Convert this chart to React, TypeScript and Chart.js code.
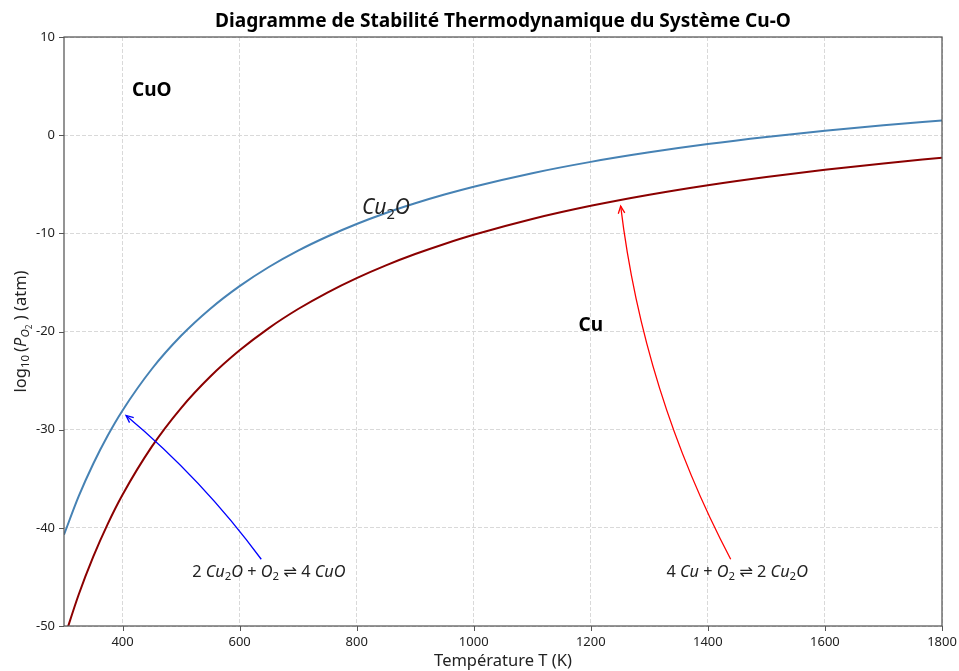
import React, { useEffect, useRef } from "react";
import { Chart, registerables } from "chart.js";

Chart.register(...registerables);

// ---------- data ----------
const TEMPS = [300, 325, 350, 375, 400, 450, 500, 550, 600, 650, 700, 750, 800, 850, 900, 950, 1000, 1100, 1200, 1300, 1400, 1500, 1600, 1700, 1800];
const CUO_CU2O = [-40.7, -36.8, -33.47, -30.57, -28.04, -23.82, -20.44, -17.68, -15.38, -13.43, -11.76, -10.32, -9.05, -7.93, -6.94, -6.05, -5.25, -3.87, -2.72, -1.75, -0.91, -0.19, 0.44, 1.0, 1.5];
const CU2O_CU = [-51.34, -46.82, -42.94, -39.57, -36.63, -31.73, -27.8, -24.59, -21.92, -19.65, -17.71, -16.03, -14.56, -13.26, -12.11, -11.08, -10.15, -8.54, -7.2, -6.07, -5.1, -4.26, -3.53, -2.88, -2.3];
const X_TICKS = [400, 600, 800, 1000, 1200, 1400, 1600, 1800];
const Y_TICKS = [-50, -40, -30, -20, -10, 0, 10];

const TITLE = "Diagramme de Stabilité Thermodynamique du Système Cu-O";
const X_TITLE = "Température T (K)";

const FAM = '"Noto Sans", "DejaVu Sans", sans-serif';

type Seg = { t: string; it?: boolean; b?: boolean; sub?: number };

function segFont(s: Seg, size: number) {
  const sz = s.sub === 2 ? size * 0.5 : s.sub === 1 ? size * 0.7 : size;
  return `${s.it ? "italic " : ""}${s.b ? "bold " : ""}${sz}px ${FAM}`;
}

function drawRich(ctx: CanvasRenderingContext2D, segs: Seg[], x: number, yMid: number, size: number, color: string) {
  const widths = segs.map((s) => {
    ctx.font = segFont(s, size);
    return ctx.measureText(s.t).width;
  });
  const total = widths.reduce((a, b) => a + b, 0);
  let cx = x - total / 2;
  const base = yMid + size * 0.36;
  ctx.fillStyle = color;
  ctx.textAlign = "left";
  ctx.textBaseline = "alphabetic";
  segs.forEach((s, i) => {
    ctx.font = segFont(s, size);
    const off = s.sub === 2 ? size * 0.38 : s.sub === 1 ? size * 0.2 : 0;
    ctx.fillText(s.t, cx, base + off);
    cx += widths[i];
  });
}

function drawArrow(ctx: CanvasRenderingContext2D, x1: number, y1: number, x2: number, y2: number, rad: number, color: string) {
  const mx = (x1 + x2) / 2, my = (y1 + y2) / 2;
  const dx = x2 - x1, dy = y2 - y1;
  const cx = mx + rad * dy, cy = my - rad * dx;
  ctx.strokeStyle = color;
  ctx.lineWidth = 1.3;
  ctx.setLineDash([]);
  ctx.beginPath();
  ctx.moveTo(x1, y1);
  ctx.quadraticCurveTo(cx, cy, x2, y2);
  ctx.stroke();
  const ang = Math.atan2(y2 - cy, x2 - cx);
  const L = 8, a = 0.42;
  ctx.beginPath();
  ctx.moveTo(x2 - L * Math.cos(ang - a), y2 - L * Math.sin(ang - a));
  ctx.lineTo(x2, y2);
  ctx.lineTo(x2 - L * Math.cos(ang + a), y2 - L * Math.sin(ang + a));
  ctx.stroke();
}

const overlay = {
  id: "overlay",
  afterDraw(chart: any) {
    const ctx: CanvasRenderingContext2D = chart.ctx;
    const xs = chart.scales.x, ys = chart.scales.y;
    const a = chart.chartArea;
    const px = (v: number) => xs.getPixelForValue(v);
    const py = (v: number) => ys.getPixelForValue(v);
    ctx.save();

    // frame
    ctx.strokeStyle = "#555";
    ctx.lineWidth = 1.25;
    ctx.setLineDash([]);
    ctx.strokeRect(a.left, a.top, a.right - a.left, a.bottom - a.top);
    // tick marks
    ctx.lineWidth = 1;
    ctx.beginPath();
    X_TICKS.forEach((v) => {
      const x = Math.round(px(v)) + 0.5;
      ctx.moveTo(x, a.bottom);
      ctx.lineTo(x, a.bottom + 5);
    });
    Y_TICKS.forEach((v) => {
      const y = Math.round(py(v)) + 0.5;
      ctx.moveTo(a.left - 5, y);
      ctx.lineTo(a.left, y);
    });
    ctx.stroke();

    // title
    ctx.fillStyle = "#000";
    ctx.font = `bold 19.1px ${FAM}`;
    ctx.textAlign = "center";
    ctx.textBaseline = "middle";
    ctx.fillText(TITLE, (a.left + a.right) / 2, 22);

    // x title
    ctx.fillStyle = "#222";
    ctx.font = `16.5px ${FAM}`;
    ctx.fillText(X_TITLE, (a.left + a.right) / 2, 661);

    // y title
    ctx.save();
    ctx.translate(20, (a.top + a.bottom) / 2);
    ctx.rotate(-Math.PI / 2);
    drawRich(ctx, [
      { t: "log" },
      { t: "10 ", sub: 1 },
      { t: "(" },
      { t: "P", it: true },
      { t: "O", it: true, sub: 1 },
      { t: "2", sub: 2 },
      { t: " ) (atm)" },
    ], 0, 0, 16.5, "#222");
    ctx.restore();

    // region labels
    drawRich(ctx, [{ t: "CuO", b: true }], px(450), py(4.7), 19, "#000");
    drawRich(ctx, [{ t: "Cu", b: true }], px(1200), py(-19.3), 19, "#000");
    drawRich(ctx, [{ t: "Cu", it: true }, { t: "2", sub: 1 }, { t: "O", it: true }], px(850), py(-7.3), 21, "#222");

    // equations
    drawRich(ctx, [
      { t: "2 " }, { t: "Cu", it: true }, { t: "2", sub: 1 }, { t: "O", it: true },
      { t: " + " }, { t: "O", it: true }, { t: "2", sub: 1 }, { t: " ⇌ 4 " }, { t: "CuO", it: true },
    ], px(650), py(-44.4), 16.3, "#222");
    drawRich(ctx, [
      { t: "4 " }, { t: "Cu", it: true }, { t: " + " }, { t: "O", it: true }, { t: "2", sub: 1 },
      { t: " ⇌ 2 " }, { t: "Cu", it: true }, { t: "2", sub: 1 }, { t: "O", it: true },
    ], px(1450), py(-44.4), 16.3, "#222");

    // arrows
    drawArrow(ctx, px(637), py(-43.2), px(406), py(-28.55), -0.06, "#0000ff");
    drawArrow(ctx, px(1439), py(-43.2), px(1251), py(-7.22), 0.092, "#ff0000");

    ctx.restore();
  },
};

export default function App() {
  const ref = useRef<HTMLCanvasElement | null>(null);
  useEffect(() => {
    document.body.style.margin = "0";
    const canvas = ref.current!;
    const chart = new Chart(canvas, {
      type: "scatter",
      data: {
        datasets: [
          {
            label: "CuO / Cu2O",
            data: TEMPS.map((t, i) => ({ x: t, y: CUO_CU2O[i] })),
            showLine: true,
            borderColor: "#4682b4",
            borderWidth: 2,
            pointRadius: 0,
            cubicInterpolationMode: "monotone",
            clip: 0,
          },
          {
            label: "Cu2O / Cu",
            data: TEMPS.map((t, i) => ({ x: t, y: CU2O_CU[i] })),
            showLine: true,
            borderColor: "#8b0000",
            borderWidth: 2,
            pointRadius: 0,
            cubicInterpolationMode: "monotone",
            clip: 0,
          },
        ],
      },
      options: {
        animation: false,
        responsive: false,
        devicePixelRatio: 1,
        layout: { padding: { top: 37, right: 17, left: 0, bottom: 0 } },
        plugins: { legend: { display: false }, title: { display: false }, tooltip: { enabled: false } },
        scales: {
          x: {
            type: "linear",
            min: 300,
            max: 1800,
            afterBuildTicks: (s: any) => { s.ticks = X_TICKS.map((v) => ({ value: v })); },
            afterFit: (s: any) => { s.height = 45; s.paddingRight = 0; s.paddingLeft = 0; },
            ticks: { font: { family: FAM, size: 13 }, color: "#222", padding: 8, maxRotation: 0, autoSkip: false, callback: (v: any) => String(v) },
            grid: { color: "#d9d9d9", lineWidth: 1, drawTicks: false },
            border: { display: false, dash: [4, 2] },
          },
          y: {
            type: "linear",
            min: -50,
            max: 10,
            afterBuildTicks: (s: any) => { s.ticks = Y_TICKS.map((v) => ({ value: v })); },
            afterFit: (s: any) => { s.width = 64; s.paddingTop = 0; s.paddingBottom = 0; },
            ticks: { font: { family: FAM, size: 13 }, color: "#222", padding: 9, autoSkip: false, callback: (v: any) => String(v) },
            grid: { color: "#d9d9d9", lineWidth: 1, drawTicks: false },
            border: { display: false, dash: [4, 2] },
          },
        },
      } as any,
      plugins: [overlay],
    });
    return () => chart.destroy();
  }, []);
  return <canvas ref={ref} width={959} height={671} style={{ display: "block" }} />;
}
